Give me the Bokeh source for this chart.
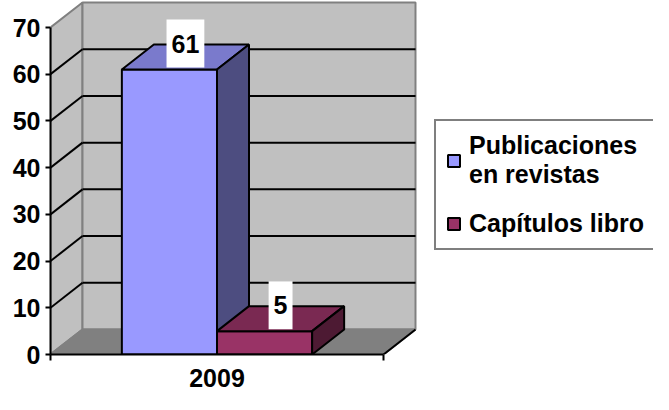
from bokeh.plotting import figure
from bokeh.models import Range1d, FixedTicker, Legend, LegendItem
from bokeh.embed import file_html
from bokeh.resources import INLINE
from bokeh.core.properties import value

# ---- data ----
categories = ["2009"]
series_names = ["Publicaciones\nen revistas", "Capítulos libro"]
series_values = [61, 5]
series_colors = ["#9999FF", "#993366"]
top_colors = ["#7A7ACC", "#7A2952"]
side_colors = ["#4D4D80", "#4D1A33"]
y_ticks = [0, 10, 20, 30, 40, 50, 60, 70]
y_max = 70

# ---- layout ----
W, H = 653, 394
LEFT, BOTTOM = 50, 40
FW, FH = W - LEFT, H - BOTTOM
DX_PX, DY_PX = 32, 25
CAT_PX = 333
TOP70 = 27          # pixel row of the top tick inside the frame
x_end = FW / CAT_PX
ppu = (FH - TOP70) / y_max
y_end = FH / ppu
dx = DX_PX / CAT_PX
dy = DY_PX / ppu

FONT = value("Liberation Sans")
FS = "25px"

p = figure(width=W, height=H, output_backend="svg", toolbar_location=None,
           x_range=Range1d(0, x_end), y_range=Range1d(0, y_end),
           min_border_left=LEFT, min_border_bottom=BOTTOM, min_border_top=0, min_border_right=0)
p.outline_line_color = None
p.xgrid.visible = False
p.ygrid.visible = False
p.background_fill_color = "white"
p.border_fill_color = "white"

# walls and floor
p.patch([0, 0, dx, dx], [0, y_max, y_max + dy, dy], fill_color="#C0C0C0", line_color="#808080", line_width=2)
p.patch([dx, dx, 1 + dx, 1 + dx], [dy, y_max + dy, y_max + dy, dy], fill_color="#C0C0C0", line_color="#808080", line_width=2)
p.patch([0, 1, 1 + dx, dx], [0, 0, dy, dy], fill_color="#808080", line_color="#808080", line_width=2)
p.segment(x0=[1], y0=[0], x1=[1 + dx], y1=[dy], line_color="black", line_width=2)

# gridlines
grid_vals = [v for v in y_ticks if 0 < v < y_max]
p.segment(x0=[dx] * len(grid_vals), y0=[v + dy for v in grid_vals],
          x1=[1 + dx] * len(grid_vals), y1=[v + dy for v in grid_vals], line_color="black", line_width=2)
p.segment(x0=[0] * len(grid_vals), y0=grid_vals, x1=[dx] * len(grid_vals),
          y1=[v + dy for v in grid_vals], line_color="black", line_width=2)

# bars
n = len(series_values)
gap = 1.5
bw = 1 / (n + gap)
items = []
lx, ly, lt = [], [], []
for i, v in enumerate(series_values):
    x0 = gap / 2 * bw + i * bw
    x1 = x0 + bw
    r = p.quad(left=[x0], right=[x1], bottom=[0], top=[v], fill_color=series_colors[i],
               line_color="black", line_width=2)
    p.patch([x0, x1, x1 + dx, x0 + dx], [v, v, v + dy, v + dy], fill_color=top_colors[i],
            line_color="black", line_width=2)
    p.patch([x1, x1 + dx, x1 + dx, x1], [0, dy, v + dy, v], fill_color=side_colors[i],
            line_color="black", line_width=2)
    items.append(LegendItem(label=series_names[i], renderers=[r]))
    lx.append((x0 + x1) / 2 + dx / 2)
    ly.append(v)
    lt.append(str(v))

p.text(x=lx, y=ly, text=lt, anchor="bottom_center", padding=(5, 5, 15, 15), y_offset=-2,
       background_fill_color="white", text_font=FONT, text_font_style="bold",
       text_font_size=FS, text_color="black")

# axes
ya = p.yaxis[0]
ya.ticker = FixedTicker(ticks=y_ticks)
ya.bounds = (0, y_max)
ya.axis_line_width = 2
ya.major_tick_line_width = 2
ya.major_tick_in = 0
ya.major_tick_out = 5
ya.minor_tick_line_color = None
ya.major_label_standoff = 5
ya.major_label_text_font = "Liberation Sans"
ya.major_label_text_font_style = "bold"
ya.major_label_text_font_size = FS
ya.major_label_text_color = "black"

xa = p.xaxis[0]
xa.ticker = FixedTicker(ticks=[0.5], minor_ticks=[0, 1])
xa.bounds = (0, 1)
xa.major_label_overrides = {0.5: categories[0]}
xa.axis_line_width = 2
xa.major_tick_line_color = None
xa.major_tick_in = 0
xa.major_tick_out = 0
xa.minor_tick_in = 0
xa.minor_tick_out = 6
xa.minor_tick_line_width = 2
xa.major_label_standoff = 8
xa.major_label_text_line_height = 1.0
xa.major_label_text_font = "Liberation Sans"
xa.major_label_text_font_style = "bold"
xa.major_label_text_font_size = FS
xa.major_label_text_color = "black"

legend = Legend(items=items, location=(384, 104), orientation="vertical",
                label_text_font="Liberation Sans", label_text_font_style="bold",
                label_text_font_size=FS, label_text_color="black",
                label_text_line_height=1.2,
                glyph_width=15, glyph_height=15, label_standoff=8, spacing=20,
                padding=10, border_line_color="black", border_line_width=2,
                background_fill_color="white", background_fill_alpha=1.0)
p.add_layout(legend)

open("out.html", "w").write(file_html(p, INLINE))
